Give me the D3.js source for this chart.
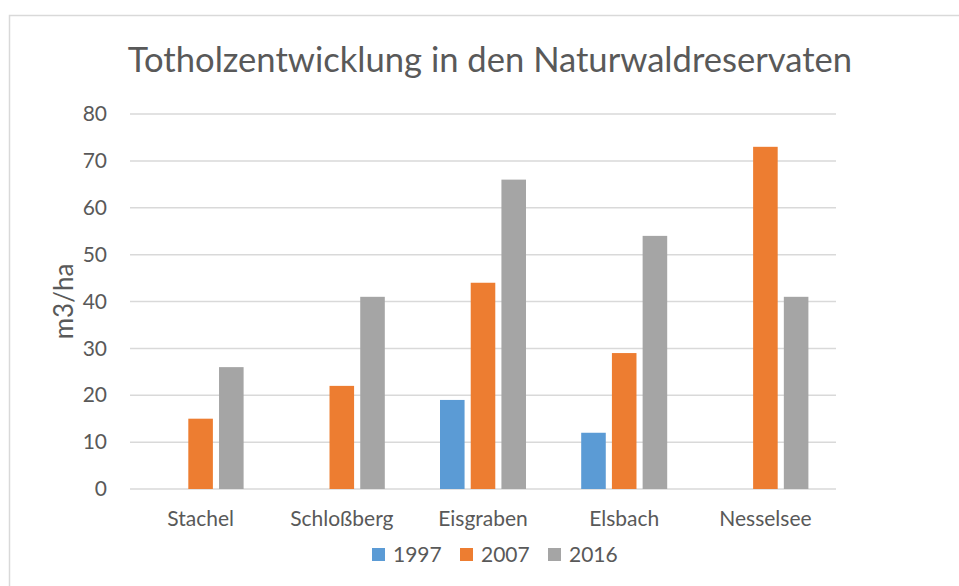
<!DOCTYPE html>
<html>
<head>
<meta charset="utf-8">
<script src="https://cdn.jsdelivr.net/npm/d3@7"></script>
<style>
  body { margin: 0; background: #fff; }
  text { font-family: Lato, "Open Sans", sans-serif; fill: #595959; }
</style>
</head>
<body>
<div id="chart"></div>
<script>
// data
const reserves = ["Stachel", "Schloßberg", "Eisgraben", "Elsbach", "Nesselsee"];
const years = ["1997", "2007", "2016"];
const v1997 = [0, 0, 19, 12, 0];
const v2007 = [15, 22, 44, 29, 73];
const v2016 = [26, 41, 66, 54, 41];
const yTicks = [0, 10, 20, 30, 40, 50, 60, 70, 80];
const colors = ["#5B9BD5", "#ED7D31", "#A5A5A5"];

const series = [v1997, v2007, v2016];

const W = 959, H = 586;
const margin = {top: 114, right: 123, bottom: 97, left: 130};
const w = W - margin.left - margin.right,
      h = H - margin.top - margin.bottom;

const svg = d3.select("#chart").append("svg")
    .attr("width", W)
    .attr("height", H);

// chart border
svg.append("rect")
    .attr("x", 9.5).attr("y", 15.5)
    .attr("width", 960).attr("height", 600)
    .attr("fill", "none")
    .attr("stroke", "#D9D9D9")
    .attr("stroke-width", 1.5);

svg.append("text")
    .attr("x", 490).attr("y", 72)
    .attr("text-anchor", "middle")
    .style("font-size", "34.6px")
    .text("Totholzentwicklung in den Naturwaldreservaten");

const g = svg.append("g")
    .attr("transform", "translate(" + margin.left + "," + margin.top + ")");

const x0 = d3.scaleBand().domain(reserves).range([0, w]);
const x1 = d3.scaleBand().domain(years)
    .range([x0.bandwidth() / 2 - 43, x0.bandwidth() / 2 + 43])
    .paddingInner(0.2);
const y = d3.scaleLinear().domain([0, 80]).range([h, 0]);

// gridlines
g.selectAll(".grid").data(yTicks).enter()
  .append("line")
    .attr("x1", 0).attr("x2", w)
    .attr("y1", d => y(d)).attr("y2", d => y(d))
    .attr("stroke", "#D9D9D9")
    .attr("stroke-width", 1.5);

// y axis labels
const yAxis = g.append("g")
    .call(d3.axisLeft(y).tickValues(yTicks).tickSize(0).tickPadding(23));
yAxis.select(".domain").remove();
yAxis.selectAll("text")
    .style("font-size", "21px")
    .style("font-family", "Lato, sans-serif")
    .attr("fill", "#595959");

// bars
const groups = g.selectAll(".grp").data(reserves).enter()
  .append("g")
    .attr("transform", d => "translate(" + x0(d) + ",0)");

groups.selectAll("rect")
    .data((d, i) => years.map((yr, k) => ({yr: yr, v: series[k][i], k: k})))
    .enter().append("rect")
    .attr("x", d => x1(d.yr))
    .attr("width", x1.bandwidth())
    .attr("y", d => y(d.v))
    .attr("height", d => h - y(d.v))
    .attr("fill", d => colors[d.k]);

// x axis labels
const xAxis = g.append("g")
    .attr("transform", "translate(0," + h + ")")
    .call(d3.axisBottom(x0).tickSize(0).tickPadding(22));
xAxis.select(".domain").remove();
xAxis.selectAll("text")
    .style("font-size", "21px")
    .style("font-family", "Lato, sans-serif")
    .attr("fill", "#595959");

// y axis title
svg.append("text")
    .attr("transform", "translate(73," + (margin.top + h / 2) + ") rotate(-90)")
    .attr("text-anchor", "middle")
    .style("font-size", "26px")
    .text("m3/ha");

// legend
const legendX = [372, 460, 548];
const legend = svg.append("g");
const item = legend.selectAll(".lg").data(years).enter()
  .append("g")
    .attr("transform", (d, i) => "translate(" + legendX[i] + ",548)");
item.append("rect")
    .attr("width", 13).attr("height", 13)
    .attr("fill", (d, i) => colors[i]);
item.append("text")
    .attr("x", 21).attr("y", 14)
    .style("font-size", "21px")
    .text(d => d);
</script>
</body>
</html>
